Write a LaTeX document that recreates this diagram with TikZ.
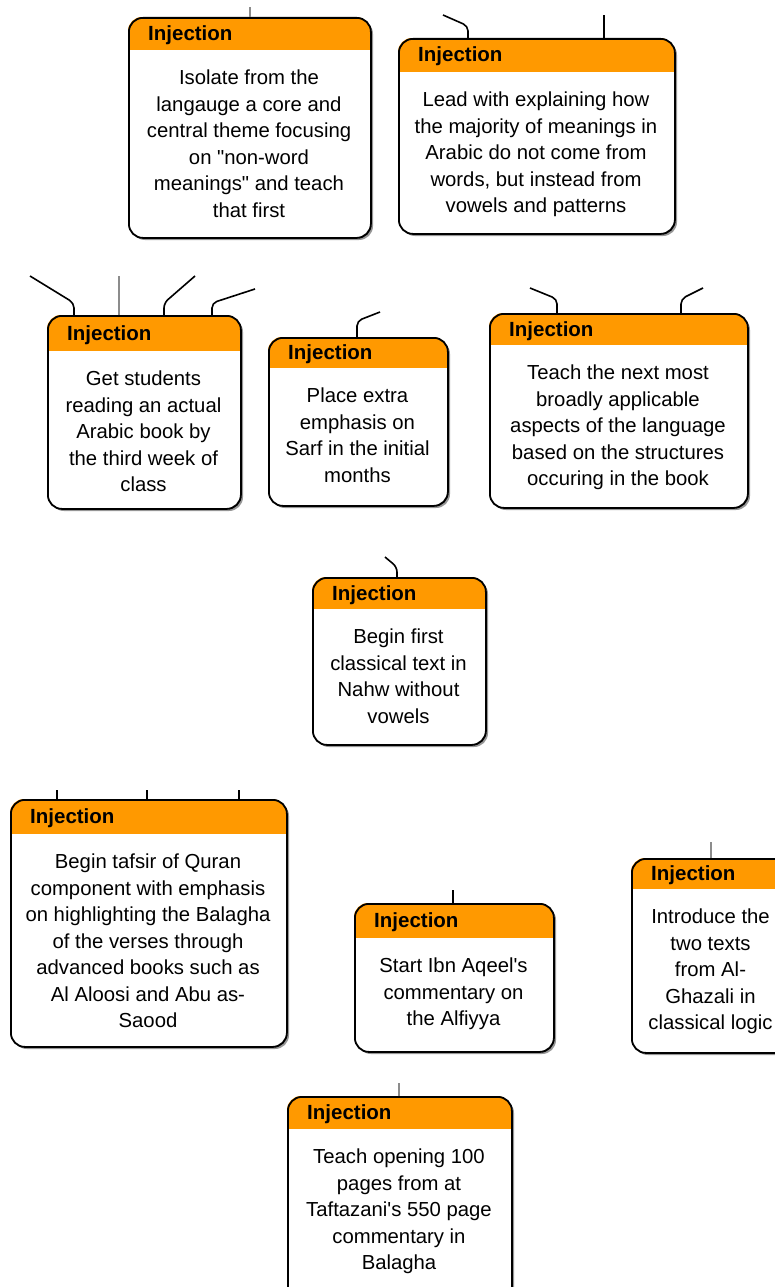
\documentclass[tikz,border=0pt]{standalone}
\usepackage{fontspec}
\setmainfont{Liberation Sans}[Ligatures=TeXOff]
\usetikzlibrary{calc}
\definecolor{hdrorange}{RGB}{255,153,0}
\definecolor{shadowgray}{RGB}{150,150,150}
\definecolor{stubgray}{RGB}{140,140,140}
\tikzset{
  boxshape/.style={draw=black, line width=1.8pt, rounded corners=14pt, inner sep=0pt, fill=none},
  hdrtext/.style={anchor=base west, inner sep=0pt, font=\bfseries\fontsize{20.5}{22}\selectfont},
  bodytext/.style={anchor=north, inner sep=0pt, align=center, font=\fontsize{20.3}{26.5}\selectfont},
  stub/.style={draw=black, line width=1.6pt, rounded corners=5pt},
  graystub/.style={draw=stubgray, line width=2.6pt, rounded corners=5pt}
}
% #1 name, #2 left, #3 top, #4 right, #5 bottom, #6 header height, #7 body text
\newcommand\injbox[7]{%
  \fill[shadowgray, rounded corners=14pt] (#2+3,#3+3) rectangle (#4+3,#5+3);
  \fill[white, rounded corners=14pt] (#2,#3) rectangle (#4,#5);
  \begin{scope}
    \clip[rounded corners=14pt] (#2,#3) rectangle (#4,#5);
    \fill[hdrorange] (#2,#3) rectangle (#4,#3+#6);
  \end{scope}
  \node[boxshape, minimum width=#4-#2, minimum height=#5-#3, anchor=north west] (#1) at (#2,#3) {};
  \node[hdrtext] (#1h) at (#2+20,#3+#6/2+7) {Injection};
  \node[bodytext] (#1t) at ({(#2+#4)/2},#3+#6+20) {#7};
}
\begin{document}
\begin{tikzpicture}[x=1pt, y=-1pt]
\useasboundingbox (0,0) rectangle (775,1287);
\clip (0,0) rectangle (775,1287);

\injbox{b1}{128}{17}{370}{237}{33}{Isolate from the\\langauge a core and\\central theme focusing\\on "non-word\\meanings" and teach\\that first}
\injbox{b2}{398}{38}{674}{233}{34}{Lead with explaining how\\the majority of meanings in\\Arabic do not come from\\words, but instead from\\vowels and patterns}
\injbox{b3}{47}{315}{240}{508}{36}{Get students\\reading an actual\\Arabic book by\\the third week of\\class}
\injbox{b4}{268}{337}{447}{505}{31}{Place extra\\emphasis on\\Sarf in the initial\\months}
\injbox{b5}{489}{313}{747}{507}{32}{Teach the next most\\broadly applicable\\aspects of the language\\based on the structures\\occuring in the book}
\injbox{b6}{312}{577}{485}{744}{32}{Begin first\\classical text in\\Nahw without\\vowels}
\injbox{b7}{10}{799}{286}{1046}{35}{Begin tafsir of Quran\\component with emphasis\\on highlighting the Balagha\\of the verses through\\advanced books such as\\Al Aloosi and Abu as-\\Saood}
\injbox{b8}{354}{903}{553}{1051}{35}{Start Ibn Aqeel's\\commentary on\\the Alfiyya}
\injbox{b9}{631}{858}{790}{1052}{31}{Introduce the\\two texts\\from Al-\\Ghazali in\\classical logic}
\injbox{b10}{287}{1096}{511}{1300}{33}{Teach opening 100\\pages from at\\Taftazani's 550 page\\commentary in\\Balagha}

% free ends (and bends) of the incoming connectors
\coordinate (e1) at (250,7);
\coordinate (k2a) at (468,26);  \coordinate (e2a) at (443,15);
\coordinate (e2b) at (604,15);
\coordinate (k3a) at (74,303);  \coordinate (e3a) at (30,276);
\coordinate (e3b) at (119,276);
\coordinate (k3c) at (164,303); \coordinate (e3c) at (195,276);
\coordinate (k3d) at (212,303); \coordinate (e3d) at (255,289);
\coordinate (k4) at (357,321);  \coordinate (e4) at (380,312);
\coordinate (k5a) at (557,299); \coordinate (e5a) at (530,288);
\coordinate (k5b) at (681,299); \coordinate (e5b) at (703,288);
\coordinate (k6) at (397,567);  \coordinate (e6) at (385,557);
\coordinate (e7a) at (57,790);
\coordinate (e7b) at (147,790);
\coordinate (e7c) at (239,790);
\coordinate (e8) at (453,890);
\coordinate (e9) at (711,842);
\coordinate (e10) at (399,1083);

% connectors entering the boxes from above
\draw[graystub] (e1 |- b1.north) -- (e1);
\draw[stub] (k2a |- b2.north) -- (k2a) -- (e2a);
\draw[stub] (e2b |- b2.north) -- (e2b);
\draw[stub] (k3a |- b3.north) -- (k3a) -- (e3a);
\draw[graystub] (e3b |- b3.north) -- (e3b);
\draw[stub] (k3c |- b3.north) -- (k3c) -- (e3c);
\draw[stub] (k3d |- b3.north) -- (k3d) -- (e3d);
\draw[stub] (k4 |- b4.north) -- (k4) -- (e4);
\draw[stub] (k5a |- b5.north) -- (k5a) -- (e5a);
\draw[stub] (k5b |- b5.north) -- (k5b) -- (e5b);
\draw[stub] (k6 |- b6.north) -- (k6) -- (e6);
\draw[stub] (e7a |- b7.north) -- (e7a);
\draw[stub] (e7b |- b7.north) -- (e7b);
\draw[stub] (e7c |- b7.north) -- (e7c);
\draw[stub] (e8 |- b8.north) -- (e8);
\draw[graystub] (e9 |- b9.north) -- (e9);
\draw[graystub] (e10 |- b10.north) -- (e10);
\end{tikzpicture}
\end{document}
